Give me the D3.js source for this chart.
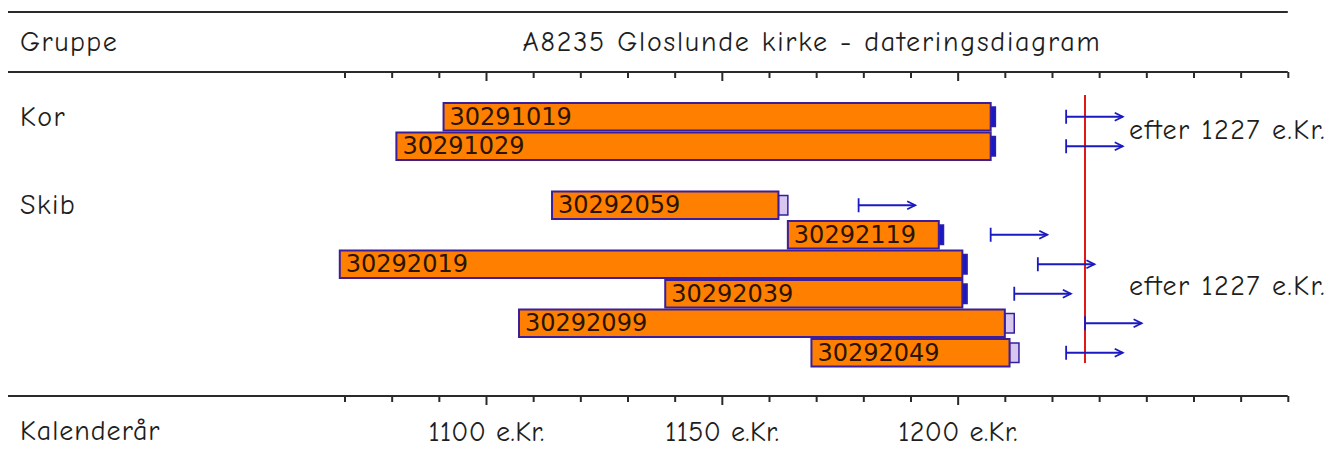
<!DOCTYPE html>
<html>
<head>
<meta charset="utf-8">
<script src="https://cdn.jsdelivr.net/npm/d3@7"></script>
<style>
  body { margin: 0; background: #fff; }
  svg text { font-family: "Comic Sans MS", "Comic Neue", "DejaVu Sans", sans-serif; fill: #1e1e1e; }
  svg text.bar-label { font-family: "DejaVu Sans", Tahoma, sans-serif; fill: #2a1400; letter-spacing: 0; }
</style>
</head>
<body>
<svg id="chart" width="1341" height="452"></svg>
<script>
// dating diagram data, years
var samples   = ["30291019", "30291029", "30292059", "30292119", "30292019", "30292039", "30292099", "30292049"];
var rows      = [0, 1, 3, 4, 5, 6, 7, 8];
var firstYear = [1091, 1081, 1114, 1164, 1069, 1138, 1107, 1169];
var lastYear  = [1207, 1207, 1162, 1196, 1201, 1201, 1210, 1211];
var edgeYear  = [1208, 1208, 1164, 1197, 1202, 1202, 1212, 1213];
var edgeSolid = [true, true, false, true, true, true, false, false];
var fellFrom  = [1223, 1223, 1179, 1207, 1217, 1212, 1227, 1223];
var fellTo    = [1235, 1235, 1191, 1219, 1229, 1224, 1239, 1235];

var groupNames  = ["Kor", "Skib"];
var groupRows   = [0, 3];
var groupDates  = ["efter 1227 e.Kr.", "efter 1227 e.Kr."];
var groupDateRow = [0.45, 5.75];

var dateLine = 1227;
var tickYears = d3.range(1070, 1271, 10);
var labelYears = [1100, 1150, 1200];

var svg = d3.select("#chart");

var x = d3.scaleLinear().domain([1100, 1227]).range([486, 1085]);
var y = d3.scaleLinear().domain([0, 9]).range([102, 367.5]);
var rowH = y(1) - y(0);

// frame lines
var lineLeft = 8, lineRight = x(1270);
[12, 72, 396].forEach(function(yy) {
  svg.append("line")
    .attr("x1", lineLeft).attr("x2", lineRight)
    .attr("y1", yy).attr("y2", yy)
    .attr("stroke", "#2a2a2a").attr("stroke-width", 2);
});

function label(xx, yy, txt, spacing) {
  return svg.append("text").attr("x", xx).attr("y", yy)
    .attr("font-size", 28).attr("letter-spacing", spacing).text(txt);
}

// header
label(20, 51, "Gruppe", 1.5);
label(812, 51, "A8235 Gloslunde kirke - dateringsdiagram", 1.8).attr("text-anchor", "middle");

// tick axes
function tickAxis(yy, withLabels) {
  var axis = d3.axisBottom(x)
    .tickValues(tickYears)
    .tickSize(6)
    .tickFormat(function(d) { return (withLabels && labelYears.indexOf(d) >= 0) ? d + " e.Kr." : ""; });
  var g = svg.append("g").attr("transform", "translate(0," + yy + ")").call(axis);
  g.attr("font-family", null).attr("font-size", null);
  g.select(".domain").remove();
  g.selectAll(".tick line").attr("stroke", "#2a2a2a").attr("stroke-width", 2)
    .attr("y2", function(d) { return labelYears.indexOf(d) >= 0 ? 9 : 6; });
  g.selectAll(".tick text")
    .attr("y", 45).attr("dy", null)
    .attr("font-size", 28)
    .attr("letter-spacing", 0.4)
    .attr("fill", "#1e1e1e");
  return g;
}
tickAxis(72, false);
tickAxis(396, true);

label(20, 440, "Kalenderår", 1);

// group labels
groupNames.forEach(function(name, i) {
  label(20, y(groupRows[i]) + rowH / 2 + 9, name, 1.5);
  label(1129, y(groupDateRow[i]) + rowH / 2 + 9, groupDates[i], 1.5);
});

// bars
var bars = svg.append("g");
samples.forEach(function(s, i) {
  var top = y(rows[i]) + 1, h = rowH - 2;
  bars.append("rect")
    .attr("x", x(lastYear[i]))
    .attr("y", top + 4).attr("width", x(edgeYear[i]) - x(lastYear[i])).attr("height", h - 8)
    .attr("fill", edgeSolid[i] ? "#1818c8" : "#d8c8f0")
    .attr("stroke", "#3020a0").attr("stroke-width", 1.5);
  bars.append("rect")
    .attr("x", x(firstYear[i])).attr("y", top)
    .attr("width", x(lastYear[i]) - x(firstYear[i])).attr("height", h)
    .attr("fill", "#ff8000").attr("stroke", "#3a1e9c").attr("stroke-width", 2);
  bars.append("text").attr("class", "bar-label")
    .attr("x", x(firstYear[i]) + 6).attr("y", top + h / 2 + 8)
    .attr("font-size", 24).text(s);
});

// red date line
svg.append("line")
  .attr("x1", x(dateLine)).attr("x2", x(dateLine))
  .attr("y1", 95).attr("y2", 363)
  .attr("stroke", "#e01818").attr("stroke-width", 2);

// felling arrows
var arrows = svg.append("g").attr("stroke", "#1a1ac0").attr("stroke-width", 1.8).attr("fill", "none");
samples.forEach(function(s, i) {
  var cy = y(rows[i]) + rowH / 2;
  var a = x(fellFrom[i]), b = x(fellTo[i]);
  arrows.append("line").attr("x1", a).attr("x2", a).attr("y1", cy - 7).attr("y2", cy + 7);
  arrows.append("line").attr("x1", a).attr("x2", b).attr("y1", cy).attr("y2", cy);
  arrows.append("path").attr("d", "M" + (b - 8) + "," + (cy - 4) + "L" + b + "," + cy + "L" + (b - 8) + "," + (cy + 4));
});
</script>
</body>
</html>
